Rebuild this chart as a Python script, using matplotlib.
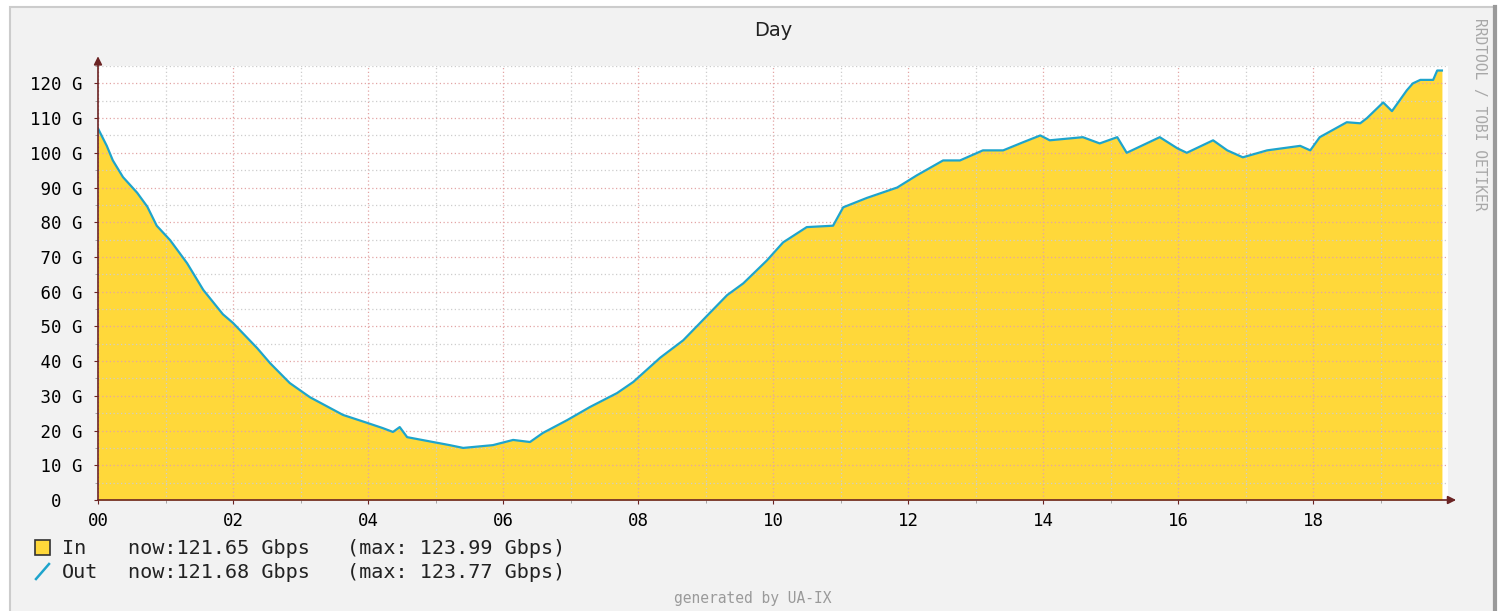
import numpy as np
import matplotlib.pyplot as plt
from matplotlib.lines import Line2D
from matplotlib.patches import Rectangle

# traffic readings (hours since 00:00, Gbps)
hours = [0.00, 0.13, 0.22, 0.37, 0.58, 0.73, 0.87, 1.07, 1.32, 1.56,
         1.85, 2.00, 2.36, 2.55, 2.84, 3.14, 3.63, 3.99, 4.22, 4.37,
         4.47, 4.58, 5.21, 5.41, 5.85, 6.15, 6.40, 6.59, 6.95, 7.29,
         7.69, 7.93, 8.33, 8.67, 8.92, 9.32, 9.56, 9.91, 10.15, 10.50,
         10.89, 11.04, 11.39, 11.84, 12.13, 12.52, 12.77, 13.11, 13.41, 13.70,
         13.96, 14.10, 14.59, 14.84, 15.10, 15.24, 15.73, 15.99, 16.13, 16.52,
         16.73, 16.96, 17.32, 17.81, 17.96, 18.10, 18.50, 18.70, 18.80, 19.04,
         19.17, 19.39, 19.48, 19.59, 19.78, 19.84, 19.91]
in_gbps = [107.0, 102.0, 97.8, 93.0, 88.5, 84.5, 79.0, 74.8, 68.2, 60.5,
           53.5, 51.0, 43.7, 39.4, 33.7, 29.6, 24.5, 22.2, 20.7, 19.6,
           21.0, 18.1, 15.8, 15.0, 15.8, 17.3, 16.7, 19.3, 23.0, 26.8,
           30.8, 34.0, 41.0, 46.0, 51.0, 59.0, 62.4, 69.0, 74.2, 78.6,
           79.0, 84.3, 87.0, 90.0, 93.5, 97.8, 97.8, 100.7, 100.7, 103.0,
           105.0, 103.6, 104.5, 102.7, 104.5, 100.0, 104.5, 101.3, 100.0, 103.6,
           100.7, 98.7, 100.7, 102.0, 100.7, 104.5, 108.8, 108.5, 110.0, 114.5,
           112.0, 118.0, 120.0, 121.0, 121.0, 123.7, 123.7]
# the Out line sits on top of the In area, same readings
out_gbps = [107.0, 102.0, 97.8, 93.0, 88.5, 84.5, 79.0, 74.8, 68.2, 60.5,
            53.5, 51.0, 43.7, 39.4, 33.7, 29.6, 24.5, 22.2, 20.7, 19.6,
            21.0, 18.1, 15.8, 15.0, 15.8, 17.3, 16.7, 19.3, 23.0, 26.8,
            30.8, 34.0, 41.0, 46.0, 51.0, 59.0, 62.4, 69.0, 74.2, 78.6,
            79.0, 84.3, 87.0, 90.0, 93.5, 97.8, 97.8, 100.7, 100.7, 103.0,
            105.0, 103.6, 104.5, 102.7, 104.5, 100.0, 104.5, 101.3, 100.0, 103.6,
            100.7, 98.7, 100.7, 102.0, 100.7, 104.5, 108.8, 108.5, 110.0, 114.5,
            112.0, 118.0, 120.0, 121.0, 121.0, 123.7, 123.7]

hour_ticks = [0, 2, 4, 6, 8, 10, 12, 14, 16, 18]
hour_labels = ['00', '02', '04', '06', '08', '10', '12', '14', '16', '18']
gbps_ticks = [0, 10, 20, 30, 40, 50, 60, 70, 80, 90, 100, 110, 120]
gbps_labels = ['  0  ', ' 10 G', ' 20 G', ' 30 G', ' 40 G', ' 50 G', ' 60 G',
               ' 70 G', ' 80 G', ' 90 G', '100 G', '110 G', '120 G']

W, H = 1499, 611
YELLOW = '#ffd83a'
CYAN = '#1ea4cc'
AXCOL = '#6b2424'
MONO = 'DejaVu Sans Mono'

fig = plt.figure(figsize=(W / 100, H / 100), dpi=100)
fig.patch.set_facecolor('white')

# panel background + frame
fig.add_artist(Rectangle((10 / W, -0.02), (1494 - 10) / W, 1.02 - 7 / H,
                         transform=fig.transFigure, facecolor='#f2f2f2',
                         edgecolor='#cccccc', lw=1.5, zorder=-10))
fig.add_artist(Line2D([1495 / W, 1495 / W], [0, 1 - 7 / H], color='#9a9a9a', lw=3))

ax = fig.add_axes([98 / W, 1 - 500 / H, (1448 - 98) / W, (500 - 66) / H])
ax.set_facecolor('white')

ax.fill_between(hours, in_gbps, 0, color=YELLOW, lw=0, zorder=1)
ax.plot(hours, out_gbps, color=CYAN, lw=1.6, zorder=3)

ax.set_xlim(0, 20)
ax.set_ylim(0, 125)

ax.set_xticks(hour_ticks)
ax.set_xticklabels(hour_labels, family=MONO, fontsize=12.5)
ax.set_xticks(range(1, 20, 2), minor=True)
ax.set_yticks(gbps_ticks)
ax.set_yticklabels(gbps_labels, family=MONO, fontsize=12.5)
ax.set_yticks(range(5, 126, 10), minor=True)

ax.set_axisbelow(False)
ax.grid(which='major', color='#e3a5a5', linestyle=(0, (1, 2)), lw=0.9)
ax.grid(which='minor', color='#cdcdcd', linestyle=(0, (1, 2)), lw=0.9)
ax.tick_params(axis='both', which='major', length=3, color=AXCOL, pad=6)
ax.tick_params(axis='both', which='minor', length=2, color='#999999')
ax.tick_params(axis='y', pad=8)

for s in ax.spines.values():
    s.set_visible(False)

# arrowed axes
ax.annotate('', xy=(0, 127.8), xytext=(0, 0), annotation_clip=False,
            arrowprops=dict(arrowstyle='-|>', color=AXCOL, lw=1.2,
                            mutation_scale=12, shrinkA=0, shrinkB=0))
ax.annotate('', xy=(20.12, 0), xytext=(0, 0), annotation_clip=False,
            arrowprops=dict(arrowstyle='-|>', color=AXCOL, lw=1.2,
                            mutation_scale=12, shrinkA=0, shrinkB=0))

fig.text(773 / W, 1 - 30 / H, 'Day', ha='center', va='center', fontsize=14, color='#222222')
fig.text(1480 / W, 1 - 114 / H, 'RRDTOOL / TOBI OETIKER', rotation=270, ha='center',
         va='center', family=MONO, fontsize=10.5, color='#a8a8a8')

# legend
fig.add_artist(Rectangle((35 / W, 1 - 555 / H), 15 / W, 15 / H, transform=fig.transFigure,
                         facecolor=YELLOW, edgecolor='#333333', lw=1.2))
fig.add_artist(Line2D([36 / W, 49 / W], [1 - 579 / H, 1 - 564 / H], color=CYAN, lw=1.8))
rows = [(548, 'In', 'now:121.65 Gbps', '(max: 123.99 Gbps)'),
        (573, 'Out', 'now:121.68 Gbps', '(max: 123.77 Gbps)')]
for y, name, now, mx in rows:
    fig.text(62 / W, 1 - y / H, name, va='center', family=MONO, fontsize=14.5, color='#222222')
    fig.text(128 / W, 1 - y / H, now, va='center', family=MONO, fontsize=14.5, color='#222222')
    fig.text(347 / W, 1 - y / H, mx, va='center', family=MONO, fontsize=14.5, color='#222222')

fig.text(753 / W, 1 - 598 / H, 'generated by UA-IX', ha='center', va='center',
         family=MONO, fontsize=10.5, color='#9a9a9a')

fig.savefig('out.png', dpi=100)
